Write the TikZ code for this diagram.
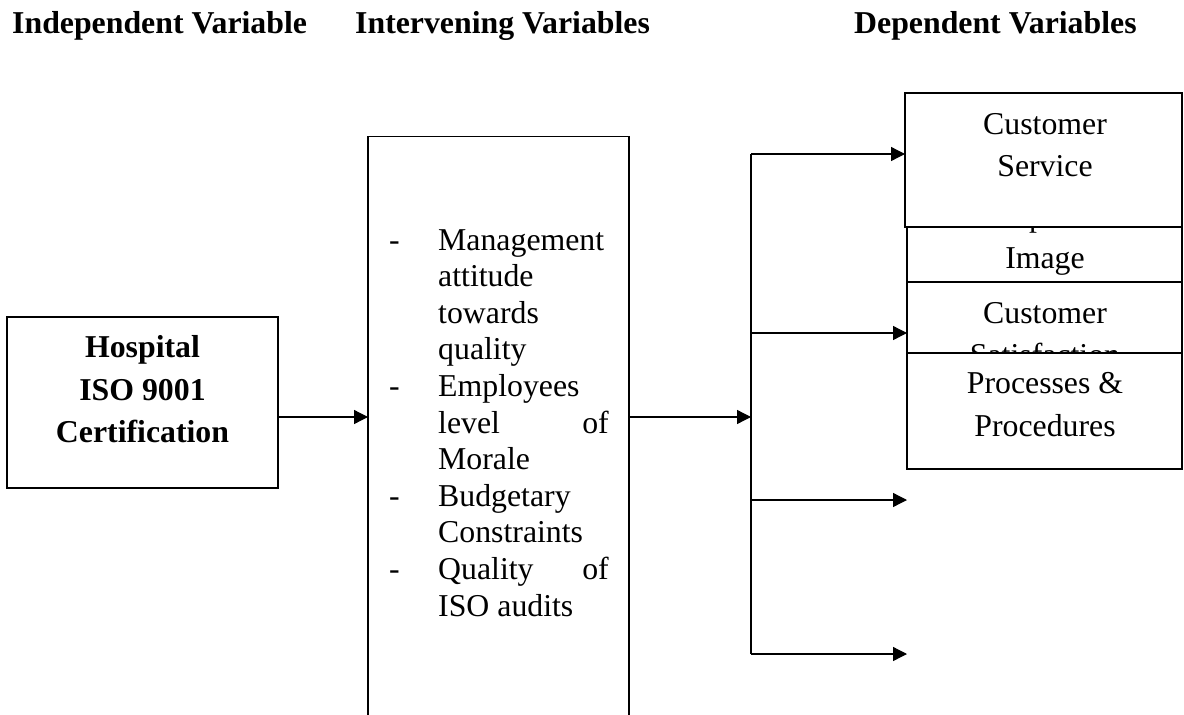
\documentclass[tikz,border=0pt]{standalone}
\usepackage{fontspec}
\setmainfont{Liberation Serif}
\usetikzlibrary{arrows.meta}
\begin{document}
\begin{tikzpicture}[x=1pt,y=-1pt,
  box/.style={draw, line width=1.3pt, fill=white, inner sep=0pt, outer sep=0pt, anchor=north west},
  txt/.style={anchor=base, inner sep=0pt, font=\fontsize{31.8}{36.6}\selectfont},
  txtl/.style={txt, anchor=base west},
  txtr/.style={txt, anchor=base east},
  btxt/.style={txt, font=\fontsize{31.8}{36.6}\selectfont\bfseries},
  hdr/.style={anchor=base west, inner sep=0pt, font=\fontsize{31.8}{36.6}\selectfont\bfseries},
  arr/.style={line width=1.3pt, -{Triangle[length=14pt,width=14pt]}},
  conn/.style={line width=1.3pt}]
\useasboundingbox[fill=white] (0,0) rectangle (1184,715);

% headers
\node[hdr] (h1) at (12,33) {Independent Variable};
\node[hdr] (h2) at (355,33) {Intervening Variables};
\node[hdr] (h3) at (854,33) {Dependent Variables};

% left box
\node[box, minimum width=271pt, minimum height=171pt] (lb) at (7,317) {};
\node[btxt] (lb1) at (142.5,357) {Hospital};
\node[btxt] (lb2) at (142.5,400) {ISO 9001};
\node[btxt] (lb3) at (142.5,442) {Certification};

% middle box
\node[box, minimum width=261pt, minimum height=620pt] (mb) at (368,136.5) {};
\node[txtl] (d1) at (389,250) {-};
\node[txtl] (m1) at (438,250) {Management};
\node[txtl] (m2) at (438,286.6) {attitude};
\node[txtl] (m3) at (438,323.2) {towards};
\node[txtl] (m4) at (438,359.8) {quality};
\node[txtl] (d2) at (389,396.4) {-};
\node[txtl] (m5) at (438,396.4) {Employees};
\node[txtl] (m6) at (438,433) {level};
\node[txtr] (m6b) at (609,433) {of};
\node[txtl] (m7) at (438,469.6) {Morale};
\node[txtl] (d3) at (389,506.2) {-};
\node[txtl] (m8) at (438,506.2) {Budgetary};
\node[txtl] (m9) at (438,542.8) {Constraints};
\node[txtl] (d4) at (389,579.4) {-};
\node[txtl] (m10) at (438,579.4) {Quality};
\node[txtr] (m10b) at (609,579.4) {of};
\node[txtl] (m11) at (438,616) {ISO audits};

% right boxes (stacked, later ones cover earlier ones)
\node[box, minimum width=275pt, minimum height=102pt] (img) at (907,180) {};
\node[txt] (img1) at (1045,226) {Corporate};
\node[txt] (img2) at (1045,268) {Image};

\node[box, minimum width=275pt, minimum height=138pt] (sat) at (907,282) {};
\node[txt] (sat1) at (1045,323) {Customer};
\node[txt] (sat2) at (1045,365) {Satisfaction};

\node[box, minimum width=275pt, minimum height=116pt] (proc) at (907,353) {};
\node[txt] (proc1) at (1045,393) {Processes \&};
\node[txt] (proc2) at (1045,436) {Procedures};

\node[box, minimum width=277pt, minimum height=134pt] (svc) at (905,93) {};
\node[txt] (svc1) at (1045,134) {Customer};
\node[txt] (svc2) at (1045,176) {Service};

% connectors
\coordinate (row) at (0,417);
\coordinate (bus) at (751,417);
\coordinate (b1) at (751,154);
\coordinate (b2) at (751,333);
\coordinate (b3) at (751,500);
\coordinate (b4) at (751,654);
\coordinate (e3) at (907,500);
\coordinate (e4) at (907,654);

\draw[arr] (lb.east |- row) -- (mb.west |- row);
\draw[arr] (mb.east |- row) -- (bus);
\draw[conn] (b1) -- (b4);
\draw[arr] (b1) -- (svc.west |- b1);
\draw[arr] (b2) -- (sat.west |- b2);
\draw[arr] (b3) -- (e3);
\draw[arr] (b4) -- (e4);
\end{tikzpicture}
\end{document}
